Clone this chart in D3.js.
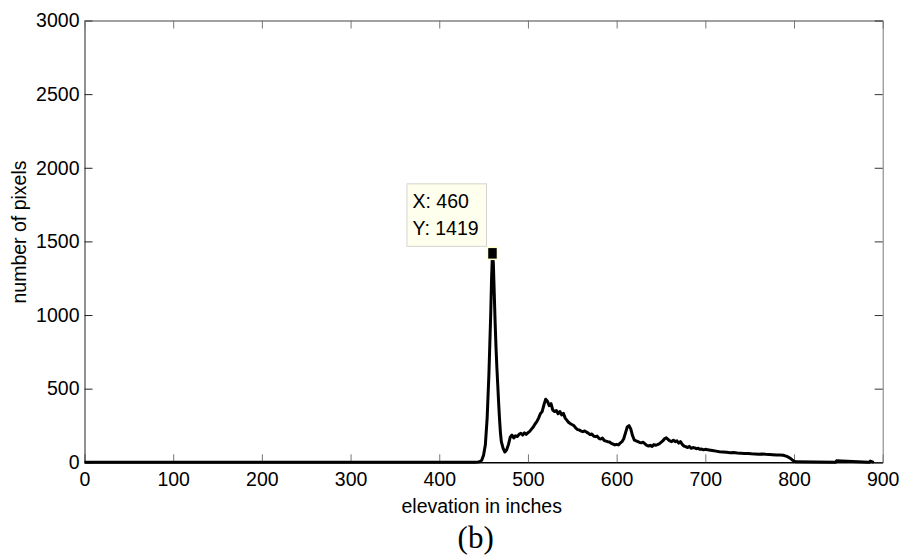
<!DOCTYPE html>
<html>
<head>
<meta charset="utf-8">
<script src="https://cdn.jsdelivr.net/npm/d3@7"></script>
<style>
  body { margin: 0; background: #fff; }
  svg { display: block; }
  .tick text { font-family: Arial, "Liberation Sans", sans-serif; font-size: 19.5px; fill: #000; }
  .lbl { font-family: Arial, "Liberation Sans", sans-serif; font-size: 19.5px; fill: #000; }
</style>
</head>
<body>
<div id="chart"></div>
<script>
const svgWidth = 904;
const svgHeight = 559;

const margin = { top: 20.5, right: 21.3, bottom: 96.7, left: 84.5 };
const width = svgWidth - margin.left - margin.right;
const height = svgHeight - margin.top - margin.bottom;

// histogram: elevation (inches) and pixel counts
const elevation = [0, 440, 444, 446, 448, 450, 452, 454, 456, 458, 459, 460, 461, 462, 463, 464, 465, 466, 467, 468, 469, 470,
  472, 474, 476, 478, 480, 482, 484, 486, 488, 490, 492, 494, 496, 498, 500, 502, 504, 506, 508, 510, 512, 514, 516, 518, 520,
  522, 524, 526, 528, 530, 532, 534, 536, 538, 540, 542, 544, 546, 548, 550, 552, 554, 556, 558, 560, 562, 564, 566, 568, 570,
  572, 574, 576, 578, 580, 582, 584, 586, 588, 590, 592, 594, 596, 598, 600, 602, 604, 606, 608, 610, 612, 614, 616, 618, 620,
  622, 624, 626, 628, 630, 632, 634, 636, 638, 640, 642, 644, 646, 648, 650, 652, 654, 656, 658, 660, 662, 664, 666, 668, 670,
  672, 674, 676, 678, 680, 682, 684, 686, 688, 690, 692, 694, 696, 698, 700, 704, 708, 712, 716, 720, 724, 728, 732, 736, 740,
  744, 748, 752, 756, 760, 764, 768, 772, 776, 780, 784, 788, 790, 792, 794, 796, 798, 800, 802, 846, 847, 848, 884, 885, 886, 890];
const pixels = [0, 0, 2, 5, 15, 50, 120, 300, 600, 1000, 1250, 1419, 1350, 1150, 950, 780, 640, 520, 400, 290, 200, 140,
  95, 70, 85, 120, 170, 185, 165, 180, 175, 190, 197, 185, 200, 190, 201, 210, 225, 240, 260, 276, 300, 330, 344, 390, 428,
  415, 385, 398, 355, 345, 352, 330, 345, 322, 333, 300, 285, 270, 262, 255, 248, 232, 222, 219, 212, 208, 213, 205, 198, 188,
  192, 178, 174, 178, 163, 158, 164, 148, 144, 140, 138, 128, 124, 118, 122, 118, 130, 140, 160, 200, 240, 249, 225, 180, 150,
  145, 140, 135, 133, 136, 125, 115, 111, 115, 108, 120, 116, 120, 125, 135, 145, 160, 167, 155, 145, 140, 150, 140, 146, 130, 140,
  122, 110, 106, 100, 108, 95, 100, 98, 92, 95, 88, 90, 85, 88, 84, 80, 76, 72, 70, 68, 65, 66, 63, 62, 60,
  60, 58, 57, 55, 56, 54, 53, 52, 50, 50, 48, 44, 40, 34, 26, 16, 8, 3, 0, 0, 10, 0, 0, 8, 0, 0];

const xTicks = [0, 100, 200, 300, 400, 500, 600, 700, 800, 900];
const yTicks = [0, 500, 1000, 1500, 2000, 2500, 3000];

const peakX = 460;
const peakY = 1419;

const svg = d3.select("#chart")
  .append("svg")
  .attr("width", svgWidth)
  .attr("height", svgHeight);

const chartGroup = svg.append("g")
  .attr("transform", `translate(${margin.left}, ${margin.top})`);

const xScale = d3.scaleLinear().domain([0, 900]).range([0, width]);
const yScale = d3.scaleLinear().domain([0, 3000]).range([height, 0]);

// MATLAB style box: inward ticks on all four sides
chartGroup.append("g")
  .attr("transform", `translate(0, ${height})`)
  .call(d3.axisBottom(xScale).tickValues(xTicks).tickSizeInner(-8).tickSizeOuter(0).tickPadding(10).tickFormat(d3.format("d")))
  .call(g => g.select(".domain").attr("stroke", "#000").attr("stroke-width", 1.5))
  .call(g => g.selectAll(".tick line").attr("stroke", "#777"));

chartGroup.append("g")
  .call(d3.axisLeft(yScale).tickValues(yTicks).tickSizeInner(-8).tickSizeOuter(0).tickPadding(5).tickFormat(d3.format("d")))
  .call(g => g.select(".domain").attr("stroke", "#222"))
  .call(g => g.selectAll(".tick line").attr("stroke", "#222"));

chartGroup.append("g")
  .call(d3.axisTop(xScale).tickValues(xTicks).tickSizeInner(-8).tickSizeOuter(0).tickFormat(""))
  .call(g => g.select(".domain").attr("stroke", "#444"))
  .call(g => g.selectAll(".tick line").attr("stroke", "#777"));

chartGroup.append("g")
  .attr("transform", `translate(${width}, 0)`)
  .call(d3.axisRight(yScale).tickValues(yTicks).tickSizeInner(-8).tickSizeOuter(0).tickFormat(""))
  .call(g => g.select(".domain").attr("stroke", "#777"))
  .call(g => g.selectAll(".tick line").attr("stroke", "#333"));

const data = elevation.map((e, i) => ({ x: e, y: pixels[i] }));

const line = d3.line()
  .x(d => xScale(d.x))
  .y(d => yScale(d.y));

chartGroup.append("path")
  .datum(data)
  .attr("fill", "none")
  .attr("stroke", "#000")
  .attr("stroke-width", 3)
  .attr("stroke-linejoin", "round")
  .attr("d", line);

// data tip
const px = xScale(peakX);
const py = yScale(peakY);

chartGroup.append("rect")
  .attr("x", px - 5)
  .attr("y", py - 6)
  .attr("width", 10)
  .attr("height", 12)
  .attr("fill", "#000")
  .attr("stroke", "#ffffcc")
  .attr("stroke-width", 1.5);

const tip = chartGroup.append("g")
  .attr("transform", `translate(${px - 85.5}, ${py - 69.5})`);

tip.append("rect")
  .attr("width", 79.5)
  .attr("height", 62.5)
  .attr("fill", "#ffffee")
  .attr("stroke", "#d4d4cc")
  .attr("stroke-width", 1);

tip.append("text")
  .attr("class", "lbl")
  .attr("x", 5.5)
  .attr("y", 24.5)
  .text(`X: ${peakX}`);

tip.append("text")
  .attr("class", "lbl")
  .attr("x", 5.5)
  .attr("y", 51)
  .text(`Y: ${peakY}`);

// axis labels
svg.append("text")
  .attr("class", "lbl")
  .attr("x", 481.7)
  .attr("y", 513)
  .attr("text-anchor", "middle")
  .text("elevation in inches");

svg.append("text")
  .attr("class", "lbl")
  .attr("transform", "translate(26, 232) rotate(-90)")
  .attr("text-anchor", "middle")
  .text("number of pixels");

svg.append("text")
  .attr("x", 475.7)
  .attr("y", 547.5)
  .attr("text-anchor", "middle")
  .style("font-family", "'Times New Roman', 'Liberation Serif', serif")
  .style("font-size", "31px")
  .text("(b)");
</script>
</body>
</html>
